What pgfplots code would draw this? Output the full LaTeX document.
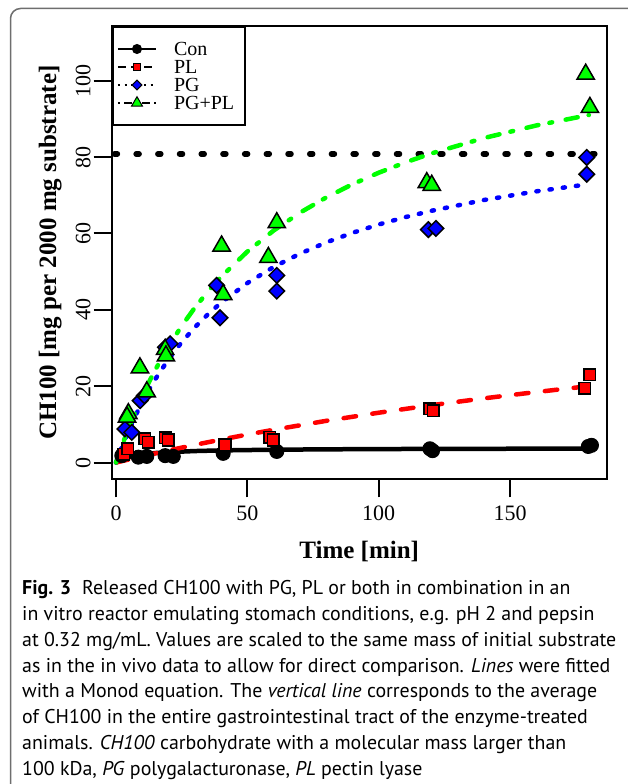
\documentclass[border=0pt]{standalone}
\usepackage{fontspec}
\setmainfont{Liberation Serif}
\newfontfamily\capfont{PT Sans}
\usepackage{pgfplots}
\pgfplotsset{compat=1.18}
\definecolor{cgreen}{RGB}{0,255,0}
\definecolor{cblue}{RGB}{0,0,255}
\definecolor{cred}{RGB}{255,0,0}
\definecolor{framegray}{RGB}{110,110,110}

\begin{document}
\begin{tikzpicture}
\path[use as bounding box] (0pt,0pt) rectangle (627pt,-784pt);
\draw[framegray, line width=1.5pt, rounded corners=10pt] (10.5pt,-790pt) -- (10.5pt,-8.5pt) -- (640pt,-8.5pt);
\begin{axis}[
  at={(111.7pt,-25.7pt)}, anchor=north west,
  scale only axis, width=495pt, height=453.6pt,
  xmin=-1.64, xmax=186.8, ymin=-4.4, ymax=114.4,
  axis line style={line width=2pt},
  xtick={0,50,100,150}, ytick={0,20,40,60,80,100},
  xtick pos=bottom, ytick pos=left,
  tick align=outside, major tick length=18pt,
  tick style={line width=2pt, black},
  /pgf/number format/assume math mode=true,
  tick label style={font=\fontsize{22}{22}\selectfont, inner sep=0pt},
  yticklabel style={rotate=90, anchor=south},
  xticklabel style={anchor=north},
  xticklabel shift=8.5pt, yticklabel shift=3pt,
  xlabel={Time [min]}, ylabel={CH100 [mg per 2000 mg substrate]},
  label style={font=\fontsize{25}{25}\selectfont\bfseries},
  x label style={at={(axis description cs:0.5,-0.1735)}, anchor=base},
  y label style={at={(axis description cs:-0.1125,0.5)}, anchor=base},
  legend image code/.code={\draw[mark repeat=2,mark phase=2,#1] plot coordinates {(0pt,0pt) (19pt,0pt) (38pt,0pt)}; \path[draw=none, fill=none] (56pt,0pt);},
  legend cell align=left,
  legend style={at={(0,1)}, anchor=north west, draw=black, line width=2pt, fill=white,
     inner xsep=4.3pt, inner ysep=13.3pt, row sep=0pt, column sep=0pt,
     font=\fontsize{20}{20}\selectfont,
     nodes={inner sep=0pt, text height=15.5pt, text depth=2.5pt}},
]
% reference level
\addplot[forget plot, black, line width=5.5pt, line cap=round, dash pattern=on 3pt off 18.7pt] coordinates {(-0.6,80.8) (186.8,80.8)};

% Con
\addplot[forget plot, only marks, mark=*, mark size=7pt, mark options={fill=black, draw=black, line width=1pt}] coordinates {
(2.2,1.8) (8.5,1.4) (11.7,1.6) (18.7,1.8) (21.8,1.6) (40.8,2.4) (61.2,2.9) (119.5,3.6) (120.5,3.1) (179.8,4.2) (181,4.5)};
% PL
\addplot[forget plot, only marks, mark=square*, mark size=5.8pt, mark options={fill=cred, draw=black, line width=1.5pt}] coordinates {
(3,2.2) (4.5,3.6) (11,6.2) (12.3,5.3) (18.7,6.5) (19.9,5.9) (41.5,4.7) (58.6,6.6) (59.9,5.9) (119.5,14.1) (120.8,13.6) (178.5,19.5) (180.4,23.0)};
% PG
\addplot[forget plot, only marks, mark=square*, mark size=5.5pt, mark options={rotate=45, fill=cblue, draw=black, line width=1.5pt}] coordinates {
(3.4,8.8) (6.0,7.9) (9.2,16.2) (10.8,17.5) (18.8,30.2) (20.6,31.1) (38.3,46.4) (39.6,37.9) (61.2,49.0) (61.2,44.9) (118.9,61.0) (121.8,61.3) (179.2,79.9) (179.2,75.5)};
% PG+PL
\addplot[forget plot, only marks, mark=triangle*, mark size=10pt, mark options={fill=cgreen, draw=black, line width=1.5pt}] coordinates {
(4.7,12.8) (4.2,11.9) (9.1,24.8) (11.7,18.5) (18.7,29.6) (19,27.9) (40.2,56.7) (40.8,44.0) (58,53.7) (61.2,62.8) (118.3,73.3) (120.2,72.6) (178.8,101.7) (180.4,93.0)};

% fitted curves
\addplot[forget plot, black, line width=4.5pt, line cap=round, line join=round] coordinates {
(0,0) (2.5,0.90) (5,1.46) (7.5,1.84) (10,2.11) (15,2.48) (20,2.71) (30,3.0) (40,3.17) (60,3.35) (80,3.45) (100,3.52) (120,3.56) (140,3.59) (160,3.62) (180,3.64)};
\addplot[forget plot, cred, line width=4.5pt, line cap=round, line join=round, dash pattern=on 12.5pt off 16.5pt] coordinates {
(0,0) (10,1.62) (20,3.16) (30,4.62) (40,6.00) (50,7.32) (60,8.57) (80,10.91) (100,13.04) (120,15.00) (140,16.80) (160,18.46) (180,20.00)};
\addplot[forget plot, cblue, line width=4.5pt, line cap=round, line join=round, dash pattern=on 2.2pt off 11.1pt] coordinates {
(0,0) (2.5,4.54) (5,8.66) (7.5,12.41) (10,15.84) (12.5,18.99) (15,21.88) (20,27.05) (25,31.51) (30,35.40) (35,38.82) (40,41.86) (50,47.00) (60,51.20) (70,54.69) (80,57.63) (90,60.15) (100,62.33) (110,64.24) (120,65.91) (140,68.74) (160,71.02) (180,72.90)};
\addplot[forget plot, cgreen, line width=4.5pt, line cap=round, line join=round, dash pattern=on 12.2pt off 11.2pt on 2.8pt off 13.8pt] coordinates {
(0,0) (2.5,4.87) (5,9.37) (7.5,13.53) (10,17.39) (12.5,20.98) (15,24.34) (20,30.41) (25,35.77) (30,40.54) (35,44.79) (40,48.63) (50,55.24) (60,60.75) (70,65.41) (80,69.41) (90,72.87) (100,75.89) (110,78.56) (120,80.93) (140,84.97) (160,88.27) (180,91.01)};

% legend
\addlegendimage{black, line width=2pt, solid, mark=*, mark size=4.5pt, mark options={solid, fill=black, draw=black, line width=1pt}}
\addlegendentry{\makebox[66.4pt][l]{Con}}
\addlegendimage{black, line width=2pt, dash pattern=on 8pt off 5pt, mark=square*, mark size=3.5pt, mark options={solid, fill=cred, draw=black, line width=1pt}}
\addlegendentry{\makebox[66.4pt][l]{PL}}
\addlegendimage{black, line width=2pt, dash pattern=on 2pt off 4.5pt, mark=square*, mark size=3.5pt, mark options={solid, rotate=45, fill=cblue, draw=black, line width=1pt}}
\addlegendentry{\makebox[66.4pt][l]{PG}}
\addlegendimage{black, line width=2pt, dash pattern=on 2pt off 4pt on 8pt off 4pt, mark=triangle*, mark size=6.3pt, mark options={solid, fill=cgreen, draw=black, line width=1pt}}
\addlegendentry{\makebox[66.4pt][l]{PG+PL}}
\end{axis}

\begin{scope}[every node/.style={anchor=base west, inner sep=0pt, font=\capfont\fontsize{19.9}{19.9}\selectfont}]
\node at (22pt,-594pt) {\textbf{Fig. 3}\hspace{0.55em}Released CH100 with PG, PL or both in combination in an};
\node at (22pt,-620pt) {in vitro reactor emulating stomach conditions, e.g. pH 2 and pepsin};
\node at (22pt,-646pt) {at 0.32 mg/mL. Values are scaled to the same mass of initial substrate};
\node at (22pt,-672pt) {as in the in vivo data to allow for direct comparison. \textit{Lines} were fitted};
\node at (22pt,-697.5pt) {with a Monod equation. The \textit{vertical line} corresponds to the average};
\node at (22pt,-723pt) {of CH100 in the entire gastrointestinal tract of the enzyme-treated};
\node at (22pt,-749pt) {animals. \textit{CH100} carbohydrate with a molecular mass larger than};
\node at (22pt,-775pt) {100 kDa, \textit{PG} polygalacturonase, \textit{PL} pectin lyase};
\end{scope}
\end{tikzpicture}
\end{document}
